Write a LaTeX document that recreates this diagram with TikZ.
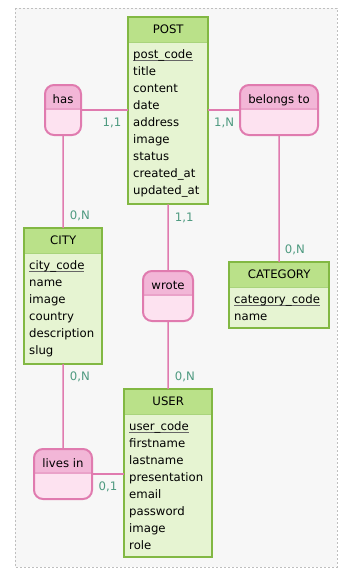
\documentclass[tikz,border=0pt]{standalone}
\usepackage{fontspec}
\setmainfont{DejaVu Sans}
\usepackage{tikz}
\usetikzlibrary{positioning}
\definecolor{bggrey}{HTML}{F7F7F7}
\definecolor{entline}{HTML}{82B843}
\definecolor{enthd}{HTML}{BAE189}
\definecolor{entbd}{HTML}{E6F4D2}
\definecolor{entsplit}{HTML}{A9D47C}
\definecolor{relline}{HTML}{E07BAF}
\definecolor{relhd}{HTML}{F2B6D7}
\definecolor{relbd}{HTML}{FDE2F0}
\definecolor{relsplit}{HTML}{EAA2C9}
\definecolor{cardc}{HTML}{4E9A80}
% primary key: text with a grey bar just under the baseline
\newcommand\attrkey[1]{\setbox0\hbox{#1}\rlap{\color{black!60}\rule[-2.4pt]{\wd0}{1.3pt}}\box0}
\tikzset{
  txt/.style={font=\fontsize{11.7}{17}\selectfont},
  frame/.style={fill=bggrey,draw=black!25,dashed,dash pattern=on 2pt off 2pt,line width=0.6pt},
  ehd/.style={txt,fill=enthd,minimum height=25pt,inner sep=0pt,anchor=north west},
  ebody/.style={txt,fill=entbd,align=left,inner xsep=5pt,inner ysep=7pt},
  eborder/.style={draw=entline,line width=2pt},
  esplit/.style={draw=entsplit,line width=1.2pt},
  rel/.style={txt,draw=relline,fill=relbd,line width=2pt,rounded corners=9pt,minimum height=50pt,
              inner sep=2pt,text height=9pt,text depth=22pt,
              path picture={
                \fill[relhd,sharp corners] (path picture bounding box.north west) rectangle ([yshift=-24pt]path picture bounding box.north east);
                \draw[relsplit,sharp corners,line width=1.2pt] ([yshift=-24pt]path picture bounding box.north west) -- ([yshift=-24pt]path picture bounding box.north east);}},
  lnk/.style={draw=relline,line width=1.5pt},
  card/.style={txt,text=cardc,inner sep=0pt},
}
\begin{document}
\begin{tikzpicture}[x=1pt,y=-1pt]
\useasboundingbox (0,0) rectangle (359,581);
\draw[frame] (15,8) rectangle (337,567);
% entities: title bar and attribute list
\foreach \id/\x/\y/\w/\title/\attrs in {
  post/128/17/80/POST/{\attrkey{post\_code}\\title\\content\\date\\address\\image\\status\\created\_at\\updated\_at},
  city/24/228/78/CITY/{\attrkey{city\_code}\\name\\image\\country\\description\\slug},
  category/229/262/100/CATEGORY/{\attrkey{category\_code}\\name},
  user/124/389/88/USER/{\attrkey{user\_code}\\firstname\\lastname\\presentation\\email\\password\\image\\role}}{
  \pgfmathsetmacro\tw{\w-10}
  \node[ehd,minimum width=\w pt] (\id) at (\x,\y) {\title};
  \node[ebody,text width=\tw pt,anchor=north west] (\id-b) at (\id.south west) {\attrs};
  \draw[esplit] (\id.south west) -- (\id.south east);
  \draw[eborder] (\id.north west) rectangle (\id-b.south east);
}
% relationships
\node[rel,minimum width=36pt] (has) at (63,110) {has};
\node[rel,minimum width=78pt] (belongs) at (279,110) {belongs to};
\node[rel,minimum width=50pt] (wrote) at (168,296) {wrote};
\node[rel,minimum width=58pt] (lives) at (63,474) {lives in};
% links with cardinalities
\draw[lnk] (has.east) -- (has.east -| post.west)
  node[card,pos=1,anchor=east,xshift=-6pt,yshift=-13pt] {1,1};
\draw[lnk] (belongs.west) -- (belongs.west -| post.east)
  node[card,pos=1,anchor=west,xshift=5pt,yshift=-13pt] {1,N};
\draw[lnk] (has.south) -- (city.north)
  node[card,pos=1,anchor=west,xshift=6pt,yshift=12pt] {0,N};
\draw[lnk] (post-b.south) -- (wrote.north)
  node[card,pos=0,anchor=west,xshift=6pt,yshift=-13pt] {1,1};
\draw[lnk] (wrote.south) -- (user.north)
  node[card,pos=1,anchor=west,xshift=6pt,yshift=12pt] {0,N};
\draw[lnk] (belongs.south) -- (category.north)
  node[card,pos=1,anchor=west,xshift=5pt,yshift=12pt] {0,N};
\draw[lnk] (city-b.south) -- (lives.north)
  node[card,pos=0,anchor=west,xshift=6pt,yshift=-13pt] {0,N};
\draw[lnk] (lives.east) -- (lives.east -| user.west)
  node[card,pos=1,anchor=east,xshift=-6pt,yshift=-13pt] {0,1};
\end{tikzpicture}
\end{document}
